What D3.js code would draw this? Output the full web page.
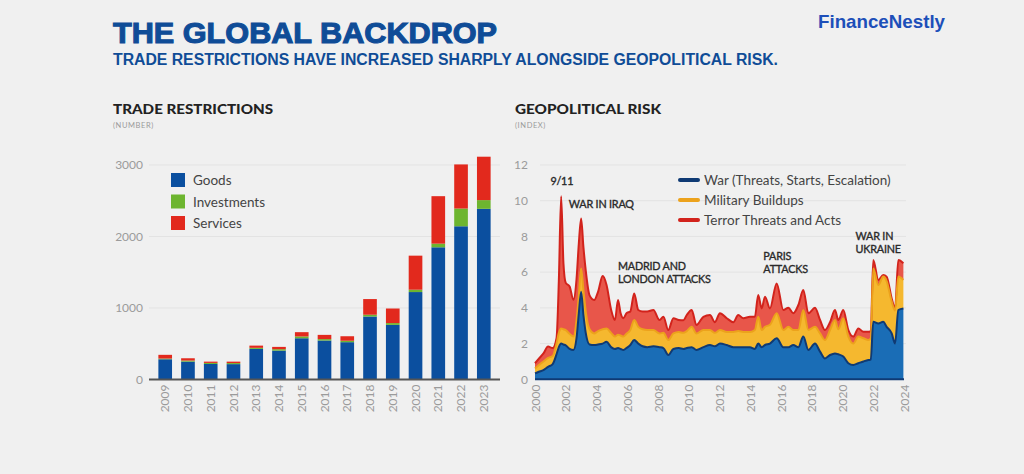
<!DOCTYPE html>
<html>
<head>
<meta charset="utf-8">
<script src="https://cdn.jsdelivr.net/npm/d3@7"></script>
<style>
  html, body { margin: 0; padding: 0; background: #f0f0f0; }
  svg { display: block; }
</style>
</head>
<body>
<svg id="chart" width="1024" height="474"></svg>
<script>
// trade restrictions (number)
const years = [2009, 2010, 2011, 2012, 2013, 2014, 2015, 2016, 2017, 2018, 2019, 2020, 2021, 2022, 2023];
const goods = [283, 250, 217, 215, 428, 404, 577, 545, 522, 881, 764, 1223, 1849, 2143, 2387];
const investments = [10, 15, 15, 15, 15, 20, 25, 20, 20, 25, 25, 33, 51, 248, 122];
const services = [52, 32, 18, 20, 31, 32, 60, 59, 63, 219, 204, 476, 664, 617, 607];
const tradeTicks = [0, 1000, 2000, 3000];

// geopolitical risk (index), stacked components
const gprDates = [2000.00, 2000.25, 2000.55, 2000.85, 2001.15, 2001.40, 2001.55, 2001.70, 2001.85, 2002.00,
  2002.25, 2002.50, 2002.70, 2002.85, 2003.00, 2003.15, 2003.30, 2003.55, 2003.85, 2004.10,
  2004.40, 2004.65, 2004.95, 2005.20, 2005.40, 2005.57, 2005.75, 2005.95, 2006.20, 2006.45,
  2006.72, 2007.00, 2007.30, 2007.70, 2008.10, 2008.35, 2008.67, 2009.00, 2009.35, 2009.65,
  2009.87, 2010.19, 2010.50, 2010.95, 2011.38, 2011.70, 2012.03, 2012.47, 2012.90, 2013.22,
  2013.55, 2013.98, 2014.30, 2014.52, 2014.74, 2014.96, 2015.28, 2015.72, 2016.15, 2016.48,
  2016.80, 2017.13, 2017.45, 2017.78, 2018.21, 2018.54, 2018.86, 2019.19, 2019.51, 2019.73,
  2020.05, 2020.38, 2020.70, 2021.03, 2021.36, 2021.68, 2021.84, 2022.00, 2022.33, 2022.65,
  2022.87, 2023.20, 2023.42, 2023.63, 2023.96];
const war = [0.33, 0.42, 0.52, 0.70, 0.85, 1.40, 1.80, 2.00, 1.95, 1.90,
  1.70, 1.64, 2.30, 3.70, 4.90, 3.60, 2.60, 1.95, 1.92, 1.95,
  2.00, 2.10, 1.80, 1.70, 1.75, 1.70, 1.64, 1.75, 1.92, 2.20,
  2.00, 1.85, 1.80, 1.85, 1.80, 1.75, 1.36, 1.70, 1.75, 1.70,
  1.75, 1.80, 1.64, 1.80, 1.92, 1.85, 2.00, 1.92, 1.80, 1.80,
  1.80, 1.80, 1.70, 2.00, 1.80, 1.92, 2.00, 2.30, 1.80, 1.80,
  1.92, 1.80, 2.39, 1.64, 2.00, 1.55, 1.17, 1.36, 1.45, 1.40,
  1.27, 0.90, 0.80, 0.90, 1.00, 1.08, 1.10, 3.22, 3.13, 3.22,
  2.94, 2.57, 2.00, 3.88, 3.97];
const buildups = [0.27, 0.38, 0.48, 0.50, 0.45, 0.60, 0.80, 0.85, 0.85, 0.85,
  0.85, 0.76, 1.00, 1.00, 1.30, 1.40, 1.20, 0.85, 0.65, 0.75,
  0.80, 0.75, 0.80, 0.69, 0.75, 0.75, 0.75, 0.80, 0.84, 1.12,
  0.94, 0.95, 0.96, 0.91, 0.77, 0.85, 0.84, 0.87, 0.90, 0.90,
  0.95, 1.14, 0.93, 0.96, 0.84, 0.75, 0.76, 0.73, 0.85, 0.90,
  0.85, 0.85, 1.06, 1.50, 0.96, 1.02, 1.05, 1.40, 0.96, 1.14,
  0.84, 0.96, 1.49, 1.12, 0.94, 1.02, 1.03, 1.40, 1.87, 1.40,
  2.15, 1.49, 1.20, 1.49, 1.30, 1.12, 1.20, 2.98, 2.15, 2.53,
  2.56, 1.78, 1.85, 1.87, 1.59];
const terror = [0.30, 0.35, 0.45, 0.63, 0.45, 0.30, 2.90, 7.40, 3.70, 2.65,
  2.65, 2.05, 2.30, 2.90, 2.80, 2.40, 2.30, 1.90, 1.87, 2.20,
  2.98, 2.45, 1.30, 0.93, 1.94, 1.25, 1.03, 1.15, 1.04, 1.49,
  0.94, 1.00, 1.04, 1.12, 0.75, 0.90, 0.56, 0.85, 0.67, 0.70,
  0.90, 0.94, 0.47, 0.74, 0.84, 0.60, 0.94, 0.77, 0.55, 0.90,
  0.77, 0.85, 0.74, 1.22, 1.21, 1.68, 0.92, 1.67, 1.12, 1.06,
  0.94, 1.40, 1.12, 0.94, 1.06, 0.75, 0.56, 0.44, 0.56, 0.52,
  0.46, 0.37, 0.39, 0.46, 0.36, 0.46, 0.40, 0.48, 0.28, 0.09,
  0.25, 0.18, 0.12, 0.93, 0.94];
const gprTicks = [0, 2, 4, 6, 8, 10, 12];
const gprYearTicks = d3.range(2000, 2025, 2);

const events = [
  { lines: ["9/11"], x: 2001.0, y: 10.9 },
  { lines: ["WAR IN IRAQ"], x: 2002.2, y: 9.6 },
  { lines: ["MADRID AND", "LONDON ATTACKS"], x: 2005.4, y: 6.1 },
  { lines: ["PARIS", "ATTACKS"], x: 2014.85, y: 6.7 },
  { lines: ["WAR IN", "UKRAINE"], x: 2020.85, y: 7.8 }
];

const svg = d3.select("#chart");
const font = "Lato, 'Open Sans', sans-serif";

svg.append("rect").attr("width", 1024).attr("height", 474).attr("fill", "#f0f0f0");

// header
svg.append("text")
  .attr("x", 113).attr("y", 43)
  .attr("font-family", "'Liberation Sans', Arial, sans-serif")
  .attr("font-weight", 900).attr("font-size", 29)
  .attr("fill", "#0f4c97")
  .attr("textLength", 384).attr("lengthAdjust", "spacingAndGlyphs")
  .style("paint-order", "stroke").attr("stroke", "#0f4c97").attr("stroke-width", 1.1)
  .text("THE GLOBAL BACKDROP");

svg.append("text")
  .attr("x", 113).attr("y", 65)
  .attr("font-family", "'Liberation Sans', Arial, sans-serif")
  .attr("font-weight", 700).attr("font-size", 16)
  .attr("fill", "#0f4c97")
  .attr("textLength", 665).attr("lengthAdjust", "spacingAndGlyphs")
  .text("TRADE RESTRICTIONS HAVE INCREASED SHARPLY ALONGSIDE GEOPOLITICAL RISK.");

svg.append("text")
  .attr("x", 818).attr("y", 28)
  .attr("font-family", "'Liberation Sans', Arial, sans-serif")
  .attr("font-weight", 700).attr("font-size", 18.5)
  .attr("fill", "#1d4fb9")
  .attr("textLength", 127).attr("lengthAdjust", "spacingAndGlyphs")
  .text("FinanceNestly");

function panelTitle(x, title, w, sub) {
  svg.append("text")
    .attr("x", x).attr("y", 114)
    .attr("font-family", font).attr("font-weight", 900).attr("font-size", 14)
    .attr("fill", "#222")
    .attr("textLength", w).attr("lengthAdjust", "spacingAndGlyphs")
    .text(title);
  svg.append("text")
    .attr("x", x).attr("y", 128)
    .attr("font-family", font).attr("font-size", 7.5)
    .attr("letter-spacing", 0.6)
    .attr("fill", "#9a9a9a")
    .text(sub);
}
panelTitle(113, "TRADE RESTRICTIONS", 160, "(NUMBER)");
panelTitle(515, "GEOPOLITICAL RISK", 146, "(INDEX)");

// ---- left: stacked bars
const x = d3.scaleBand()
  .domain(years)
  .range([147, 502])
  .paddingInner(0.4)
  .paddingOuter(0.5);

const y = d3.scaleLinear()
  .domain([0, 3000])
  .range([379.5, 165]);

const left = svg.append("g");

left.append("g")
  .selectAll("line")
  .data(tradeTicks.filter(d => d > 0))
  .join("line")
  .attr("x1", 149).attr("x2", 500)
  .attr("y1", d => y(d)).attr("y2", d => y(d))
  .attr("stroke", "#e3e3e3").attr("stroke-width", 1);

const yAxisL = left.append("g")
  .attr("transform", "translate(149,0)")
  .call(d3.axisLeft(y).tickValues(tradeTicks).tickFormat(d3.format("d")).tickSize(0).tickPadding(6));
yAxisL.select(".domain").remove();
yAxisL.selectAll("text")
  .attr("font-family", font).attr("font-size", 12).attr("fill", "#9b9b9b");

const tradeRows = years.map((yr, i) => ({
  year: yr, goods: goods[i], investments: investments[i], services: services[i]
}));
const tradeKeys = ["goods", "investments", "services"];
const tradeColors = { goods: "#0b4f9f", investments: "#6db52f", services: "#e2291d" };
const tradeStack = d3.stack().keys(tradeKeys)(tradeRows);

left.append("g")
  .selectAll("g")
  .data(tradeStack)
  .join("g")
  .attr("fill", d => tradeColors[d.key])
  .selectAll("rect")
  .data(d => d)
  .join("rect")
  .attr("x", d => x(d.data.year))
  .attr("width", x.bandwidth())
  .attr("y", d => y(d[1]))
  .attr("height", d => y(d[0]) - y(d[1]));

const xAxisL = left.append("g")
  .attr("transform", "translate(0,379.5)")
  .call(d3.axisBottom(x).tickSize(0).tickPadding(0));
xAxisL.select(".domain").remove();
xAxisL.selectAll("text")
  .attr("font-family", font).attr("font-size", 12).attr("fill", "#9b9b9b")
  .attr("text-anchor", "end")
  .attr("transform", "translate(0,5) rotate(-90)")
  .attr("dx", 0).attr("dy", "0.35em").attr("y", 0);

left.append("line")
  .attr("x1", 149).attr("x2", 500)
  .attr("y1", y(0)).attr("y2", y(0))
  .attr("stroke", "#555").attr("stroke-width", 2);

const legL = left.append("g")
  .selectAll("g")
  .data([["Goods", "goods"], ["Investments", "investments"], ["Services", "services"]])
  .join("g")
  .attr("transform", (d, i) => `translate(171,${173 + i * 21.5})`);
legL.append("rect")
  .attr("width", 14).attr("height", 14)
  .attr("fill", d => tradeColors[d[1]]);
legL.append("text")
  .attr("x", 22).attr("y", 12)
  .attr("font-family", font).attr("font-size", 13.5).attr("fill", "#444")
  .text(d => d[0]);

// ---- right: stacked areas
const gx = d3.scaleLinear().domain([2000, 2024]).range([535, 904]);
const gy = d3.scaleLinear().domain([0, 12]).range([379.3, 165]);

const right = svg.append("g");

right.append("g")
  .selectAll("line")
  .data(gprTicks.filter(d => d > 0))
  .join("line")
  .attr("x1", 540).attr("x2", 906)
  .attr("y1", d => gy(d)).attr("y2", d => gy(d))
  .attr("stroke", "#e3e3e3").attr("stroke-width", 1);

const yAxisR = right.append("g")
  .attr("transform", "translate(534,0)")
  .call(d3.axisLeft(gy).tickValues(gprTicks).tickSize(0).tickPadding(6));
yAxisR.select(".domain").remove();
yAxisR.selectAll("text")
  .attr("font-family", font).attr("font-size", 12).attr("fill", "#9b9b9b");

const gprRows = gprDates.map((t, i) => ({ t, war: war[i], buildups: buildups[i], terror: terror[i] }));
const gprKeys = ["war", "buildups", "terror"];
const gprFill = { war: "#1a6db6", buildups: "#f5b82f", terror: "#e8564a" };
const gprLine = { war: "#0f3a74", buildups: "#eca21c", terror: "#d2231c" };
const gprStack = d3.stack().keys(gprKeys)(gprRows);

const area = d3.area()
  .x(d => gx(d.data.t))
  .y0(d => gy(d[0]))
  .y1(d => gy(d[1]))
  .curve(d3.curveMonotoneX);
const topLine = d3.line()
  .x(d => gx(d.data.t))
  .y(d => gy(d[1]))
  .curve(d3.curveMonotoneX);

right.append("g")
  .selectAll("path")
  .data(gprStack)
  .join("path")
  .attr("d", area)
  .attr("fill", d => gprFill[d.key]);

right.append("g")
  .selectAll("path")
  .data(gprStack.slice().reverse())
  .join("path")
  .attr("d", topLine)
  .attr("fill", "none")
  .attr("stroke", d => gprLine[d.key])
  .attr("stroke-width", 2)
  .attr("stroke-linejoin", "round");

right.append("line")
  .attr("x1", gx(2000)).attr("x2", gx(2024))
  .attr("y1", gy(0)).attr("y2", gy(0))
  .attr("stroke", "#0f3a74").attr("stroke-width", 2);

const xAxisR = right.append("g")
  .attr("transform", "translate(0,379.5)")
  .call(d3.axisBottom(gx).tickValues(gprYearTicks).tickFormat(d3.format("d")).tickSize(0).tickPadding(0));
xAxisR.select(".domain").remove();
xAxisR.selectAll("text")
  .attr("font-family", font).attr("font-size", 12).attr("fill", "#9b9b9b")
  .attr("text-anchor", "end")
  .attr("transform", "translate(0,5) rotate(-90)")
  .attr("dx", 0).attr("dy", "0.35em").attr("y", 0);

const legR = right.append("g")
  .selectAll("g")
  .data([["War (Threats, Starts, Escalation)", "war"], ["Military Buildups", "buildups"], ["Terror Threats and Acts", "terror"]])
  .join("g")
  .attr("transform", (d, i) => `translate(680,${180 + i * 20})`);
legR.append("line")
  .attr("x1", 0).attr("x2", 18)
  .attr("stroke", d => gprLine[d[1]])
  .attr("stroke-width", 4).attr("stroke-linecap", "round");
legR.append("text")
  .attr("x", 24).attr("y", 5)
  .attr("font-family", font).attr("font-size", 13.5).attr("fill", "#444")
  .text(d => d[0]);

right.append("g")
  .selectAll("text")
  .data(events)
  .join("text")
  .attr("font-family", font).attr("font-weight", 400).attr("font-size", 10.8)
  .attr("letter-spacing", -0.2)
  .attr("fill", "#2a2a2a")
  .attr("stroke", "#2a2a2a").attr("stroke-width", 0.35)
  .attr("x", d => gx(d.x))
  .attr("y", d => gy(d.y))
  .selectAll("tspan")
  .data(d => d.lines.map(l => ({ l, x: gx(d.x) })))
  .join("tspan")
  .attr("x", d => d.x)
  .attr("dy", (d, i) => i ? 13 : 0)
  .text(d => d.l);
</script>
</body>
</html>
